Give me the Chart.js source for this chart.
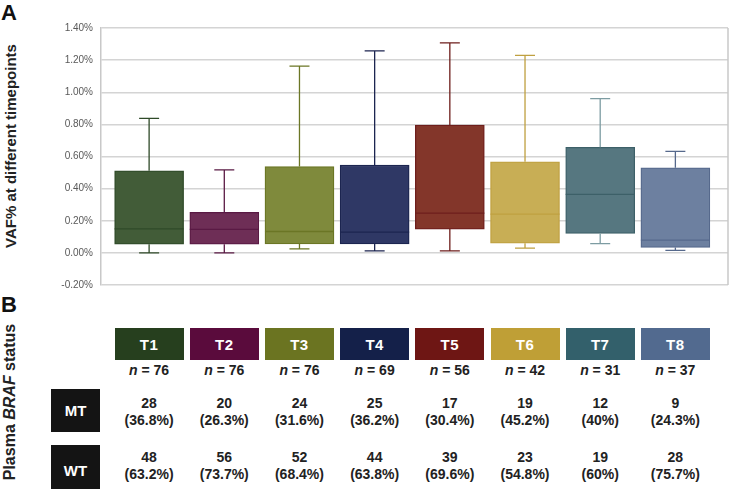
<!DOCTYPE html>
<html lang="en">
<head>
    <meta charset="UTF-8">
    <title>VAF% by timepoint</title>
    <script src="https://cdn.jsdelivr.net/npm/chart.js@4.4.1/dist/chart.umd.min.js"></script>
    <style>
        body { margin: 0; background: #fff; font-family: "Liberation Sans", Arial, sans-serif; }
        .page { position: relative; width: 729px; height: 489px; overflow: hidden; }
        .chart-wrap { position: absolute; left: 0; top: 0; width: 729px; height: 300px; }
        .panel { position: absolute; font-weight: bold; font-size: 22px; color: #111; }
        .vtitle {
            position: absolute; font-weight: bold; font-size: 15px; color: #222;
            white-space: nowrap; transform: translate(-50%, -50%) rotate(-90deg);
        }
        .hdr {
            position: absolute; top: 328px; height: 32px; width: 69px;
            color: #fff; font-weight: bold; font-size: 15px; letter-spacing: 0.5px;
            display: flex; align-items: center; justify-content: center;
        }
        .nrow {
            position: absolute; top: 362px; width: 75px; text-align: center;
            font-weight: bold; font-size: 14px; color: #222;
        }
        .rowlab {
            position: absolute; left: 51px; width: 49px; background: #141414;
            color: #fff; font-weight: bold; font-size: 15px;
            display: flex; align-items: center; justify-content: center;
        }
        .cell {
            position: absolute; width: 75px; text-align: center;
            font-weight: bold; font-size: 14px; line-height: 16.7px; color: #222;
        }
    </style>
</head>
<body>
<div class="page" id="page">
    <div class="panel" style="left:1px; top:0px;">A</div>
    <div class="panel" style="left:1px; top:292px;">B</div>
    <div class="vtitle" style="left:10px; top:146px;">VAF% at different timepoints</div>
    <div class="vtitle" style="left:10px; top:402px; font-size:16px;">Plasma <i>BRAF</i> status</div>
    <div class="chart-wrap"><canvas id="boxChart"></canvas></div>
    <div class="rowlab" style="top:389px; height:43px;">MT</div>
    <div class="rowlab" style="top:445px; height:50px;">WT</div>
</div>

<script>
    // timepoints and box-plot values (VAF %)
    const timepoints = ['T1', 'T2', 'T3', 'T4', 'T5', 'T6', 'T7', 'T8'];
    const vafMin    = [0.000, 0.000, 0.025, 0.012, 0.012, 0.029, 0.058, 0.015];
    const vafQ1     = [0.054, 0.054, 0.056, 0.056, 0.148, 0.060, 0.121, 0.034];
    const vafMedian = [0.150, 0.146, 0.133, 0.129, 0.247, 0.241, 0.364, 0.079];
    const vafQ3     = [0.511, 0.252, 0.538, 0.546, 0.796, 0.567, 0.657, 0.530];
    const vafMax    = [0.837, 0.517, 1.163, 1.257, 1.308, 1.230, 0.960, 0.632];

    // table below
    const nTotal = [76, 76, 76, 69, 56, 42, 31, 37];
    const mtCount = [28, 20, 24, 25, 17, 19, 12, 9];
    const mtPct = ['36.8%', '26.3%', '31.6%', '36.2%', '30.4%', '45.2%', '40%', '24.3%'];
    const wtCount = [48, 56, 52, 44, 39, 23, 19, 28];
    const wtPct = ['63.2%', '73.7%', '68.4%', '63.8%', '69.6%', '54.8%', '60%', '75.7%'];

    const yTicks = [-0.2, 0, 0.2, 0.4, 0.6, 0.8, 1.0, 1.2, 1.4];

    const boxFill   = ['#425c38', '#6e2e56', '#7f8a3c', '#2f3865', '#83362a', '#c8ae55', '#567780', '#6d80a0'];
    const boxLine   = ['#2f4a28', '#5a1a44', '#6b7625', '#1c2550', '#6e1e1c', '#bfa040', '#3d6068', '#56698c'];
    const whisker   = ['#2f4a28', '#5a1a44', '#6b7625', '#1c2550', '#6e1e1c', '#bfa040', '#7d9ca2', '#56698c'];
    const headerCol = ['#263f1e', '#5a0b3c', '#6b7421', '#142049', '#6e1614', '#bf9f36', '#33606b', '#526a8f'];

    const BOX_W = 69;
    const CAP_W = 20;

    // whiskers, caps, medians and the plot frame
    const boxPlotPlugin = {
        id: 'boxPlot',
        afterDatasetsDraw(chart) {
            const { ctx, scales: { x, y }, chartArea } = chart;
            ctx.save();
            ctx.lineWidth = 1.3;
            timepoints.forEach((t, i) => {
                const cx = x.getPixelForValue(i + 1);
                ctx.strokeStyle = whisker[i];
                ctx.beginPath();
                ctx.moveTo(cx, y.getPixelForValue(vafMax[i]));
                ctx.lineTo(cx, y.getPixelForValue(vafQ3[i]));
                ctx.moveTo(cx, y.getPixelForValue(vafQ1[i]));
                ctx.lineTo(cx, y.getPixelForValue(vafMin[i]));
                ctx.moveTo(cx - CAP_W / 2, y.getPixelForValue(vafMax[i]));
                ctx.lineTo(cx + CAP_W / 2, y.getPixelForValue(vafMax[i]));
                ctx.moveTo(cx - CAP_W / 2, y.getPixelForValue(vafMin[i]));
                ctx.lineTo(cx + CAP_W / 2, y.getPixelForValue(vafMin[i]));
                ctx.stroke();

                ctx.strokeStyle = boxLine[i];
                ctx.beginPath();
                ctx.moveTo(cx - BOX_W / 2, y.getPixelForValue(vafMedian[i]));
                ctx.lineTo(cx + BOX_W / 2, y.getPixelForValue(vafMedian[i]));
                ctx.stroke();
            });
            ctx.strokeStyle = '#c8c8c8';
            ctx.lineWidth = 1.5;
            ctx.beginPath();
            ctx.moveTo(chartArea.right, chartArea.top);
            ctx.lineTo(chartArea.right, chartArea.bottom);
            ctx.stroke();
            ctx.restore();
        }
    };

    const ctx = document.getElementById('boxChart').getContext('2d');
    const chart = new Chart(ctx, {
        type: 'bar',
        data: {
            datasets: [{
                data: timepoints.map((t, i) => ({ x: i + 1, y: [vafQ1[i], vafQ3[i]] })),
                backgroundColor: boxFill,
                borderColor: boxLine,
                borderWidth: 1.3,
                borderSkipped: false,
                barThickness: BOX_W
            }]
        },
        options: {
            responsive: true,
            maintainAspectRatio: false,
            animation: false,
            layout: { padding: { top: 28, right: 1, bottom: 15, left: 0 } },
            plugins: { legend: { display: false }, tooltip: { enabled: false } },
            scales: {
                x: { type: 'linear', min: 0.36, max: 8.70, offset: false, display: false },
                y: {
                    min: -0.2,
                    max: 1.4,
                    afterBuildTicks: (scale) => { scale.ticks = yTicks.map(v => ({ value: v })); },
                    afterFit: (scale) => { scale.width = 101; },
                    ticks: {
                        color: '#595959',
                        padding: 8,
                        font: { family: '"Liberation Sans", Arial, sans-serif', size: 10 },
                        callback: (v) => v.toFixed(2) + '%'
                    },
                    grid: { color: '#d4d4d4', lineWidth: 1.5, drawTicks: false },
                    border: { display: true, color: '#c8c8c8', width: 1.5 }
                }
            }
        },
        plugins: [boxPlotPlugin]
    });

    // table columns follow the chart's x scale
    const page = document.getElementById('page');
    timepoints.forEach((t, i) => {
        const cx = chart.scales.x.getPixelForValue(i + 1);

        const h = document.createElement('div');
        h.className = 'hdr';
        h.style.left = (cx - 34.5) + 'px';
        h.style.background = headerCol[i];
        h.textContent = t;
        page.appendChild(h);

        const n = document.createElement('div');
        n.className = 'nrow';
        n.style.left = (cx - 37.5) + 'px';
        n.innerHTML = '<i>n</i> = ' + nTotal[i];
        page.appendChild(n);

        const mt = document.createElement('div');
        mt.className = 'cell';
        mt.style.left = (cx - 37.5) + 'px';
        mt.style.top = '395px';
        mt.innerHTML = mtCount[i] + '<br>(' + mtPct[i] + ')';
        page.appendChild(mt);

        const wt = document.createElement('div');
        wt.className = 'cell';
        wt.style.left = (cx - 37.5) + 'px';
        wt.style.top = '449px';
        wt.innerHTML = wtCount[i] + '<br>(' + wtPct[i] + ')';
        page.appendChild(wt);
    });
</script>
</body>
</html>
